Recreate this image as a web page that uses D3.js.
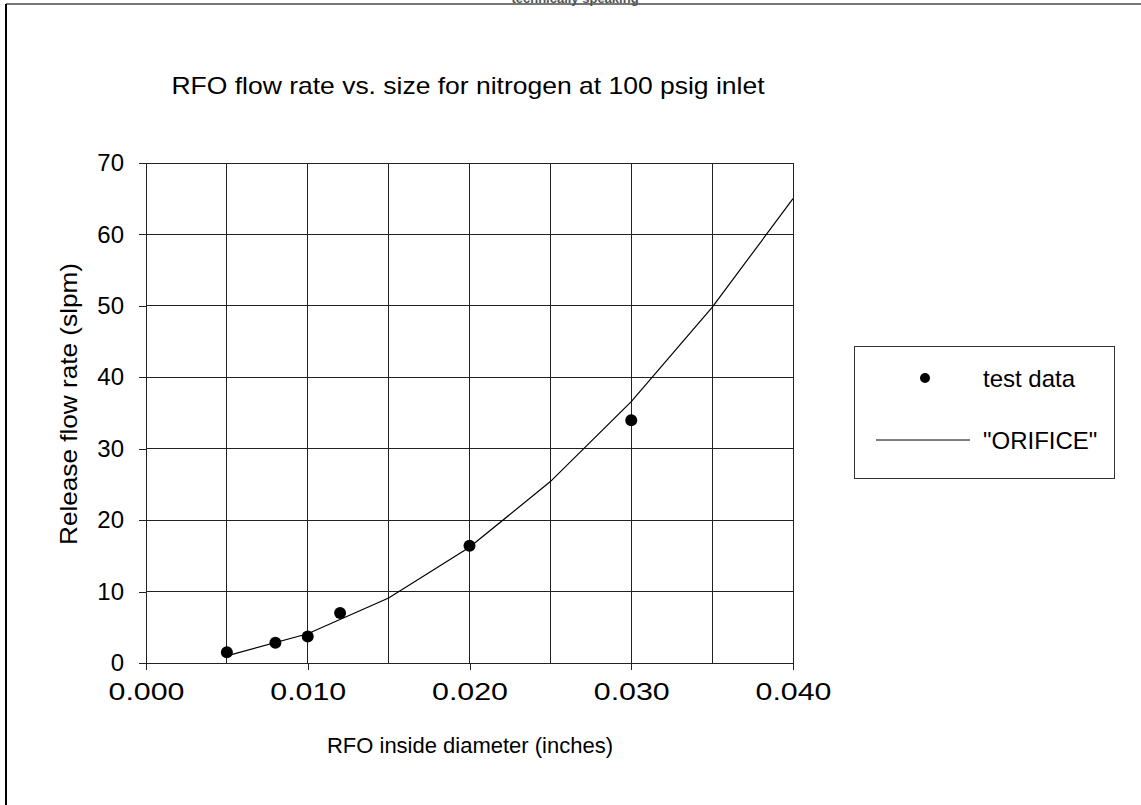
<!DOCTYPE html>
<html>
<head>
<meta charset="utf-8">
<script src="https://cdn.jsdelivr.net/npm/d3@7"></script>
<style>
  html, body { margin: 0; padding: 0; background: #fff; }
  svg { display: block; font-family: "Liberation Sans", Arial, sans-serif; }
</style>
</head>
<body>
<div id="chart"></div>
<script>
// test data (diameter in inches, flow in slpm)
const testDiam = [0.005, 0.008, 0.010, 0.012, 0.020, 0.030];
const testFlow = [1.5, 2.85, 3.7, 7.0, 16.4, 34.0];

// "ORIFICE" model curve
const orificeDiam = [0.005, 0.010, 0.015, 0.020, 0.025, 0.030, 0.035, 0.040];
const orificeFlow = [1.0, 4.1, 9.1, 16.2, 25.4, 36.6, 49.8, 65.0];

const xTicks = [0.000, 0.005, 0.010, 0.015, 0.020, 0.025, 0.030, 0.035, 0.040];
const xLabels = [0.000, 0.010, 0.020, 0.030, 0.040];
const yTicks = [0, 10, 20, 30, 40, 50, 60, 70];

const W = 1141, H = 805;
const svg = d3.select('#chart').append('svg').attr('width', W).attr('height', H);

// page borders
svg.append('line').attr('x1', 6).attr('x2', W).attr('y1', 4).attr('y2', 4)
  .attr('stroke', '#777').attr('stroke-width', 2);
svg.append('line').attr('x1', 6).attr('x2', 6).attr('y1', 4).attr('y2', H)
  .attr('stroke', '#000').attr('stroke-width', 2);

// header text, mostly cut off at the very top like in the source page
svg.append('text').attr('x', 575).attr('y', 3).attr('text-anchor', 'middle')
  .attr('font-size', 13).attr('font-weight', 'bold').attr('fill', '#555')
  .text('technically speaking');

const plotL = 146, plotR = 793, plotT = 163, plotB = 663;
const x = d3.scaleLinear().domain([0, 0.040]).range([plotL, plotR]);
const y = d3.scaleLinear().domain([0, 70]).range([plotB, plotT]);

// title
svg.append('text').attr('x', 468).attr('y', 94).attr('text-anchor', 'middle')
  .attr('font-size', 24).attr('textLength', 593).attr('lengthAdjust', 'spacingAndGlyphs')
  .text('RFO flow rate vs. size for nitrogen at 100 psig inlet');

// grid
const grid = svg.append('g').attr('stroke', '#222').attr('stroke-width', 1).attr('shape-rendering', 'crispEdges');
grid.selectAll('.vg').data(xTicks).enter().append('line')
  .attr('x1', d => x(d)).attr('x2', d => x(d)).attr('y1', plotT).attr('y2', plotB);
grid.selectAll('.hg').data(yTicks).enter().append('line')
  .attr('x1', plotL).attr('x2', plotR).attr('y1', d => y(d)).attr('y2', d => y(d));

// axes
const xAxis = svg.append('g').attr('transform', `translate(0,${plotB})`)
  .call(d3.axisBottom(x).tickValues(xLabels).tickFormat(d3.format('.3f')).tickSize(7).tickPadding(13));
const yAxis = svg.append('g').attr('transform', `translate(${plotL},0)`)
  .call(d3.axisLeft(y).tickValues(yTicks).tickSize(7).tickPadding(15));
[xAxis, yAxis].forEach(a => {
  a.select('.domain').remove();
  a.selectAll('line').attr('stroke', '#222').attr('shape-rendering', 'crispEdges');
  a.selectAll('text').attr('font-size', 24).attr('fill', '#000')
    .attr('font-family', '"Liberation Sans", Arial, sans-serif');
});
xAxis.selectAll('text').attr('textLength', 76).attr('lengthAdjust', 'spacingAndGlyphs');

// axis titles
svg.append('text').attr('x', 470).attr('y', 753).attr('text-anchor', 'middle')
  .attr('font-size', 22).text('RFO inside diameter (inches)');
svg.append('text').attr('transform', 'translate(77,404) rotate(-90)').attr('text-anchor', 'middle')
  .attr('font-size', 24).attr('textLength', 282).attr('lengthAdjust', 'spacingAndGlyphs')
  .text('Release flow rate (slpm)');

// orifice curve
const line = d3.line().x(d => x(d[0])).y(d => y(d[1]));
svg.append('path').datum(d3.zip(orificeDiam, orificeFlow))
  .attr('d', line).attr('fill', 'none').attr('stroke', '#000').attr('stroke-width', 1.2);

// test points
svg.selectAll('.pt').data(d3.zip(testDiam, testFlow)).enter().append('circle')
  .attr('cx', d => x(d[0])).attr('cy', d => y(d[1])).attr('r', 6).attr('fill', '#000');

// legend
const lg = svg.append('g');
lg.append('rect').attr('x', 854.5).attr('y', 346.5).attr('width', 260).attr('height', 132)
  .attr('fill', '#fff').attr('stroke', '#333').attr('stroke-width', 1);
lg.append('circle').attr('cx', 925).attr('cy', 378).attr('r', 5).attr('fill', '#000');
lg.append('text').attr('x', 983).attr('y', 387).attr('font-size', 24).text('test data');
lg.append('line').attr('x1', 876).attr('x2', 970).attr('y1', 440).attr('y2', 440)
  .attr('stroke', '#000').attr('stroke-width', 1);
lg.append('text').attr('x', 983).attr('y', 449).attr('font-size', 24).text('"ORIFICE"');
</script>
</body>
</html>
